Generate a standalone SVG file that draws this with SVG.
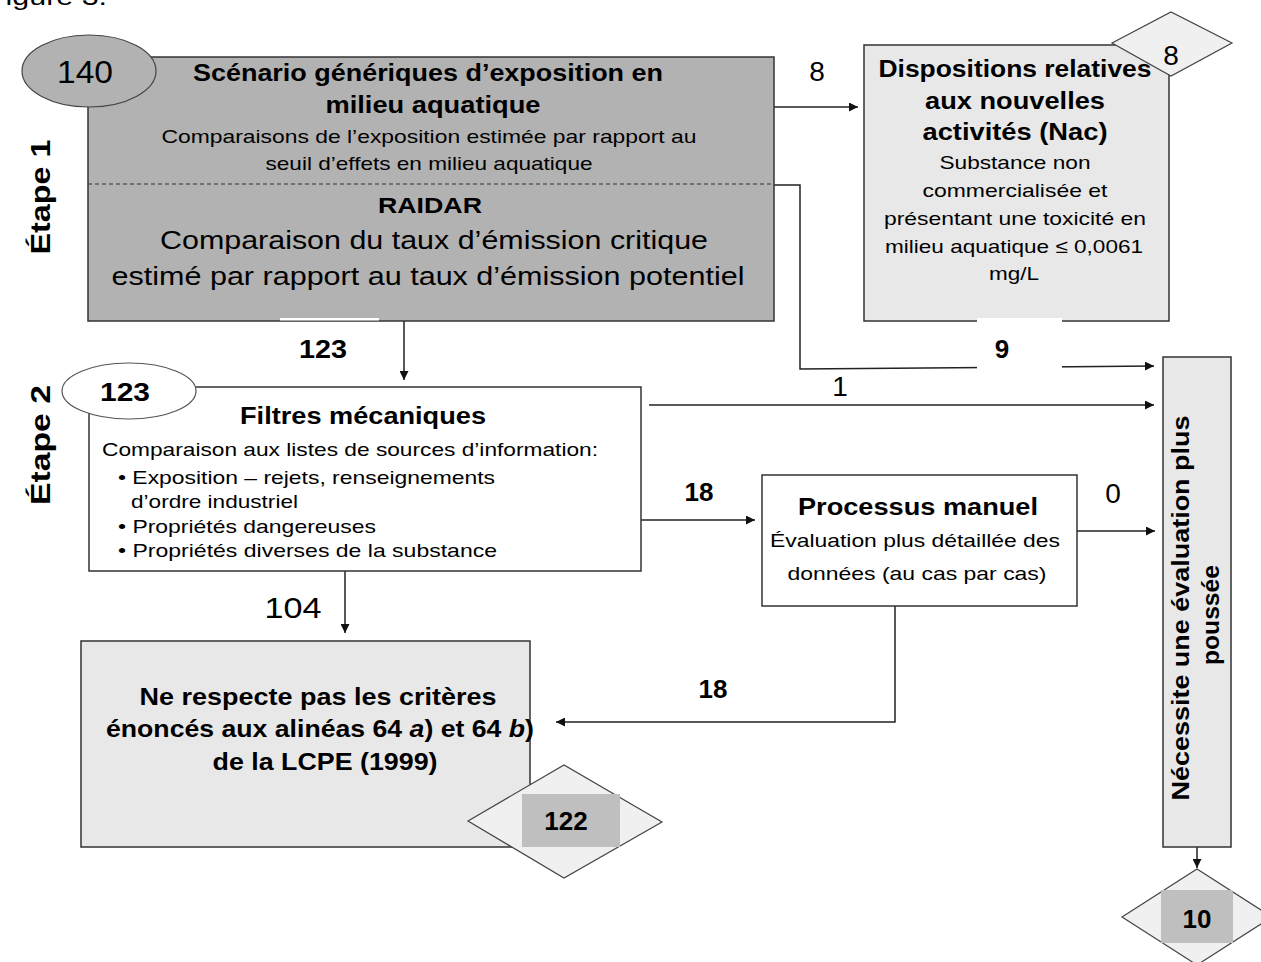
<svg xmlns="http://www.w3.org/2000/svg" width="1261" height="962" viewBox="0 0 1261 962">
  <style>
    text { font-family: "Liberation Sans", Arial, sans-serif; fill: #000; }
    .b { font-weight: bold; }
    .c { text-anchor: middle; }
    .box { stroke: #333; stroke-width: 1.5; }
    .dark { fill: #b2b2b2; }
    .light { fill: #e8e8e8; }
    .white { fill: #fff; }
    .dia { fill: #f0f0f0; stroke: #444; stroke-width: 1.2; }
    .tag { fill: #bfbfbf; }
    .wire { fill: none; stroke: #222; stroke-width: 1.5; }
    .mask { fill: #fff; }
  </style>
  <defs>
    <marker id="arr" viewBox="0 0 10 10" refX="10" refY="5" markerWidth="9" markerHeight="9" markerUnits="userSpaceOnUse" orient="auto">
      <path d="M0,0 L10,5 L0,10 z" fill="#111"/>
    </marker>
  </defs>
  <rect width="1261" height="962" fill="#fff"/>

  <text x="-13" y="5" font-size="24" textLength="120" lengthAdjust="spacingAndGlyphs">Figure 3.</text>

  <!-- stage labels -->
  <text class="b c" font-size="28" textLength="115" lengthAdjust="spacingAndGlyphs" transform="translate(50,197) rotate(-90)">Étape 1</text>
  <text class="b c" font-size="28" textLength="120" lengthAdjust="spacingAndGlyphs" transform="translate(50,445) rotate(-90)">Étape 2</text>

  <!-- connectors -->
  <g id="connectors">
    <line class="wire" x1="774" y1="107" x2="858" y2="107" marker-end="url(#arr)"/>
    <polyline class="wire" points="774,185 800,185 800,369 1154,366" marker-end="url(#arr)"/>
    <line class="wire" x1="404" y1="321" x2="404" y2="380" marker-end="url(#arr)"/>
    <line class="wire" x1="649" y1="405" x2="1154" y2="405" marker-end="url(#arr)"/>
    <line class="wire" x1="641" y1="520" x2="755" y2="520" marker-end="url(#arr)"/>
    <line class="wire" x1="1077" y1="531" x2="1155" y2="531" marker-end="url(#arr)"/>
    <polyline class="wire" points="895,606 895,722 556,722" marker-end="url(#arr)"/>
    <line class="wire" x1="345" y1="571" x2="345" y2="633" marker-end="url(#arr)"/>
    <line class="wire" x1="1197" y1="847" x2="1197" y2="868" marker-end="url(#arr)"/>
  </g>

  <!-- Stage 1: generic aquatic scenario + RAIDAR -->
  <g id="scenario">
    <rect class="box dark" x="88" y="57" width="686" height="264"/>
    <line x1="88" y1="184" x2="774" y2="184" stroke="#333" stroke-width="1.2" stroke-dasharray="4,3"/>
    <text class="b c" x="428" y="81" font-size="23" textLength="470" lengthAdjust="spacingAndGlyphs">Scénario génériques d’exposition en</text>
    <text class="b c" x="433" y="113" font-size="23" textLength="215" lengthAdjust="spacingAndGlyphs">milieu aquatique</text>
    <text class="c" x="429" y="143" font-size="19" textLength="535" lengthAdjust="spacingAndGlyphs">Comparaisons de l’exposition estimée par rapport au</text>
    <text class="c" x="429" y="170" font-size="19" textLength="327" lengthAdjust="spacingAndGlyphs">seuil d’effets en milieu aquatique</text>
    <text class="b c" x="430" y="213" font-size="22" textLength="104" lengthAdjust="spacingAndGlyphs">RAIDAR</text>
    <text class="c" x="434" y="249" font-size="26" textLength="548" lengthAdjust="spacingAndGlyphs">Comparaison du taux d’émission critique</text>
    <text class="c" x="428" y="285" font-size="26" textLength="633" lengthAdjust="spacingAndGlyphs">estimé par rapport au taux d’émission potentiel</text>
  </g>
  <g id="count-140">
    <ellipse cx="89" cy="71" rx="67" ry="36" fill="#b2b2b2" stroke="#444" stroke-width="1.2"/>
    <text class="c" x="85" y="83" font-size="31" textLength="56" lengthAdjust="spacingAndGlyphs">140</text>
  </g>

  <!-- New activities provisions -->
  <g id="nac">
    <rect class="box light" x="864" y="45" width="305" height="276"/>
    <polygon class="dia" points="1112,43 1171,12 1232,43 1171,76"/>
    <text class="c" x="1171" y="65" font-size="28">8</text>
    <text class="b c" x="1015" y="77" font-size="23" textLength="273" lengthAdjust="spacingAndGlyphs">Dispositions relatives</text>
    <text class="b c" x="1015" y="109" font-size="23" textLength="180" lengthAdjust="spacingAndGlyphs">aux nouvelles</text>
    <text class="b c" x="1015" y="140" font-size="23" textLength="185" lengthAdjust="spacingAndGlyphs">activités (Nac)</text>
    <text class="c" x="1015" y="169" font-size="19" textLength="151" lengthAdjust="spacingAndGlyphs">Substance non</text>
    <text class="c" x="1015" y="197" font-size="19" textLength="185" lengthAdjust="spacingAndGlyphs">commercialisée et</text>
    <text class="c" x="1015" y="225" font-size="19" textLength="262" lengthAdjust="spacingAndGlyphs">présentant une toxicité en</text>
    <text class="c" x="1014" y="253" font-size="19" textLength="258" lengthAdjust="spacingAndGlyphs">milieu aquatique  ≤ 0,0061</text>
    <text class="c" x="1014" y="280" font-size="19" textLength="50" lengthAdjust="spacingAndGlyphs">mg/L</text>
  </g>

  <!-- Stage 2: mechanical filters -->
  <g id="filtres">
    <rect class="box white" x="89" y="387" width="552" height="184"/>
    <text class="b c" x="363" y="424" font-size="23" textLength="246" lengthAdjust="spacingAndGlyphs">Filtres mécaniques</text>
    <text x="102" y="456" font-size="19" textLength="496" lengthAdjust="spacingAndGlyphs">Comparaison aux listes de sources d’information:</text>
    <text x="118" y="484" font-size="19" textLength="377" lengthAdjust="spacingAndGlyphs">• Exposition – rejets, renseignements</text>
    <text x="131" y="508" font-size="19" textLength="167" lengthAdjust="spacingAndGlyphs">d’ordre industriel</text>
    <text x="118" y="533" font-size="19" textLength="258" lengthAdjust="spacingAndGlyphs">• Propriétés dangereuses</text>
    <text x="118" y="557" font-size="19" textLength="379" lengthAdjust="spacingAndGlyphs">• Propriétés diverses de la substance</text>
  </g>
  <g id="count-123">
    <ellipse cx="129" cy="391" rx="67" ry="28" fill="#fff" stroke="#555" stroke-width="1.2"/>
    <text class="b c" x="125" y="401" font-size="26" textLength="50" lengthAdjust="spacingAndGlyphs">123</text>
  </g>

  <!-- Manual process -->
  <g id="processus">
    <rect class="box white" x="762" y="475" width="315" height="131"/>
    <text class="b c" x="918" y="515" font-size="23" textLength="240" lengthAdjust="spacingAndGlyphs">Processus manuel</text>
    <text class="c" x="915" y="547" font-size="19" textLength="290" lengthAdjust="spacingAndGlyphs">Évaluation  plus détaillée  des</text>
    <text class="c" x="917" y="580" font-size="19" textLength="259" lengthAdjust="spacingAndGlyphs">données (au cas par cas)</text>
  </g>

  <!-- Criteria not met -->
  <g id="criteres">
    <rect class="box light" x="81" y="641" width="449" height="206"/>
    <text class="b c" x="318" y="705" font-size="24" textLength="357" lengthAdjust="spacingAndGlyphs">Ne respecte pas les critères</text>
    <text class="b c" x="320" y="737" font-size="24" textLength="428" lengthAdjust="spacingAndGlyphs">énoncés aux alinéas 64 <tspan font-style="italic">a</tspan>) et 64 <tspan font-style="italic">b</tspan>)</text>
    <text class="b c" x="325" y="770" font-size="24" textLength="225" lengthAdjust="spacingAndGlyphs">de la LCPE (1999)</text>
    <polygon class="dia" points="468,821 564,765 662,822 564,878"/>
    <rect class="tag" x="522" y="794" width="98" height="53"/>
    <text class="b c" x="566" y="830" font-size="26">122</text>
  </g>

  <!-- Further assessment required -->
  <g id="evaluation">
    <rect class="box light" x="1163" y="357" width="68" height="490"/>
    <text class="b c" font-size="23" textLength="385" lengthAdjust="spacingAndGlyphs" transform="translate(1189,608) rotate(-90)">Nécessite une évaluation plus</text>
    <text class="b c" font-size="23" textLength="100" lengthAdjust="spacingAndGlyphs" transform="translate(1219,615) rotate(-90)">poussée</text>
    <polygon class="dia" points="1122,917 1197,869 1272,917 1197,965"/>
    <rect class="tag" x="1161" y="890" width="72" height="53"/>
    <text class="b c" x="1197" y="928" font-size="26">10</text>
  </g>

  <!-- flow counts -->
  <g id="labels">
    <text class="c" x="817" y="81" font-size="28">8</text>
    <rect class="mask" x="977" y="318" width="85" height="55"/>
    <text class="b c" x="1002" y="358" font-size="26">9</text>
    <rect class="mask" x="280" y="318" width="99" height="2.5"/>
    <text class="b c" x="323" y="358" font-size="26" textLength="48" lengthAdjust="spacingAndGlyphs">123</text>
    <text class="c" x="840" y="396" font-size="28">1</text>
    <text class="b c" x="699" y="501" font-size="26">18</text>
    <text class="c" x="1113" y="503" font-size="28">0</text>
    <text class="c" x="293" y="618" font-size="30" textLength="57" lengthAdjust="spacingAndGlyphs">104</text>
    <text class="b c" x="713" y="698" font-size="26">18</text>
  </g>
</svg>
